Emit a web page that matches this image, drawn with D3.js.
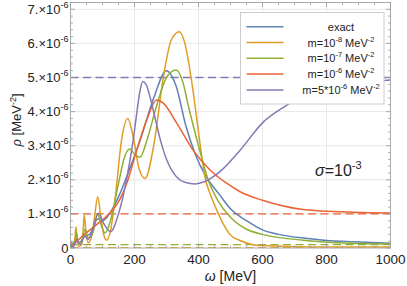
<!DOCTYPE html>
<html>
<head>
<meta charset="utf-8">
<script src="https://cdn.jsdelivr.net/npm/d3@7"></script>
<style>
  body { margin: 0; background: #fff; }
  text { font-family: "Liberation Sans", Arial, sans-serif; fill: #222; }
</style>
</head>
<body>
<div id="chart"></div>
<script>
// values in units of 1e-6 MeV^-2, omega in MeV
const exact = [[0,0.02],[15,0.2],[25,0.15],[45,0.35],[60,0.4],[85,0.85],[100,0.8],[125,1.05],[150,1.5],[180,2.2],[218,3.17],[260,4.4],[300,5.2],[330,4.75],[360,3.6],[390,2.75],[420,2.15],[467,1.55],[500,1.15],[550,0.8],[600,0.53],[650,0.4],[727,0.29],[800,0.22],[883,0.18],[1000,0.14]];
const m8 = [[0,0.02],[8,0.05],[14,0.3],[17,0.62],[20,0.3],[26,0.05],[35,0.1],[40,0.6],[43,0.97],[47,0.6],[55,0.15],[65,0.3],[75,0.9],[85,1.5],[95,0.9],[105,0.35],[113,0.23],[125,0.5],[140,1.5],[160,3.2],[179,3.8],[195,3.3],[215,2.3],[233,2.04],[260,3.0],[290,5.0],[315,6.1],[340,6.34],[360,5.9],[380,4.8],[400,3.4],[420,2.09],[440,1.5],[457,1.11],[475,0.75],[498,0.4],[530,0.22],[560,0.12],[600,0.07],[700,0.04],[800,0.03],[1000,0.03]];
const m7 = [[0,0.2],[8,0.1],[15,0.2],[19,0.45],[24,0.15],[35,0.2],[45,0.55],[55,0.3],[70,0.45],[85,1.0],[95,0.7],[108,0.44],[125,0.8],[150,1.9],[170,2.7],[186,2.9],[200,2.75],[217,2.66],[240,3.2],[270,4.2],[300,5.0],[330,5.22],[350,4.9],[370,4.1],[400,3.0],[430,2.0],[460,1.4],[500,0.9],[550,0.55],[600,0.4],[727,0.23],[850,0.15],[1000,0.12]];
const m6 = [[0,0.03],[20,0.2],[50,0.45],[90,0.75],[120,1.0],[150,1.35],[176,1.9],[207,2.87],[238,3.75],[269,4.34],[290,4.25],[332,3.66],[383,2.87],[436,2.29],[488,1.9],[530,1.65],[600,1.4],[727,1.13],[884,1.05],[1000,1.03]];
const m5x6 = [[0,0.02],[10,0.05],[19,0.25],[30,0.1],[45,0.35],[55,0.25],[70,0.55],[87,1.02],[105,0.7],[125,0.48],[150,1.0],[175,2.0],[196,3.17],[207,3.95],[217,4.6],[226,4.88],[236,4.8],[248,4.45],[262,3.9],[280,3.2],[300,2.6],[330,2.1],[360,1.92],[389,1.88],[420,1.95],[467,2.24],[530,2.87],[603,3.7],[676,4.19],[717,4.44],[800,4.7],[900,4.85],[1000,4.93]];
const asymptotes = [0, 0.01, 0.1, 1, 5];
const seriesNames = ["exact", "m=10", "m=10", "m=10", "m=5*10"];
const seriesExp = [null, "-8", "-7", "-6", "-6"];
const colors = ["#5e81b5", "#e19c24", "#8fb032", "#eb6235", "#8778b3"];
const xTicks = [0, 200, 400, 600, 800, 1000];
const yTicks = [0, 1, 2, 3, 4, 5, 6, 7];

const series = [exact, m8, m7, m6, m5x6];
const width = 407, height = 286;
const margin = {left: 70.5, right: 16.5, top: 2.5, bottom: 38};

const svg = d3.select("#chart").append("svg")
  .attr("width", width).attr("height", height);

const x = d3.scaleLinear().domain([0, 1000]).range([margin.left, width - margin.right]);
const y = d3.scaleLinear().domain([0, 7.2]).range([height - margin.bottom, margin.top]);

// grid
svg.append("g").selectAll("line").data(xTicks.slice(1, -1)).join("line")
  .attr("x1", d => x(d)).attr("x2", d => x(d))
  .attr("y1", y(0)).attr("y2", y(7.2))
  .attr("stroke", "#e8e8e8").attr("stroke-width", 1);
svg.append("g").selectAll("line").data(yTicks.slice(1)).join("line")
  .attr("x1", x(0)).attr("x2", x(1000))
  .attr("y1", d => y(d)).attr("y2", d => y(d))
  .attr("stroke", "#e8e8e8").attr("stroke-width", 1);

svg.append("clipPath").attr("id", "clip").append("rect")
  .attr("x", x(0)).attr("y", y(7.2)).attr("width", x(1000) - x(0)).attr("height", y(0) - y(7.2));

const plot = svg.append("g").attr("clip-path", "url(#clip)");
const line = d3.line().x(d => x(d[0])).y(d => y(d[1])).curve(d3.curveMonotoneX);

// dashed asymptotes
series.forEach((s, i) => {
  if (i === 0) return;
  plot.append("line")
    .attr("x1", x(0)).attr("x2", x(1000))
    .attr("y1", y(asymptotes[i])).attr("y2", y(asymptotes[i]))
    .attr("stroke", colors[i]).attr("stroke-width", 1.4)
    .attr("stroke-dasharray", "8,4.5");
});

series.forEach((s, i) => {
  plot.append("path").datum(s)
    .attr("d", line)
    .attr("fill", "none")
    .attr("stroke", colors[i])
    .attr("stroke-width", 1.5);
});

// frame
svg.append("rect")
  .attr("x", x(0)).attr("y", y(7.2)).attr("width", x(1000) - x(0)).attr("height", y(0) - y(7.2))
  .attr("fill", "none").attr("stroke", "#aaa").attr("stroke-width", 1);

// ticks
const tickG = svg.append("g").attr("stroke", "#999").attr("stroke-width", 0.8);
d3.range(0, 1001, 50).forEach(v => {
  const len = v % 200 === 0 ? 4.5 : 2.5;
  tickG.append("line").attr("x1", x(v)).attr("x2", x(v)).attr("y1", y(0)).attr("y2", y(0) - len);
  tickG.append("line").attr("x1", x(v)).attr("x2", x(v)).attr("y1", y(7.2)).attr("y2", y(7.2) + len);
});
d3.range(0, 7.21, 0.2).forEach(v => {
  const major = Math.abs(v - Math.round(v)) < 1e-6;
  const len = major ? 4.5 : 2.5;
  tickG.append("line").attr("y1", y(v)).attr("y2", y(v)).attr("x1", x(0)).attr("x2", x(0) + len);
  tickG.append("line").attr("y1", y(v)).attr("y2", y(v)).attr("x1", x(1000)).attr("x2", x(1000) - len);
});

// tick labels
svg.append("g").selectAll("text").data(xTicks).join("text")
  .attr("x", d => x(d)).attr("y", 264)
  .attr("text-anchor", "middle").attr("font-size", 13.5)
  .text(d => d);

const yl = svg.append("g").selectAll("text").data(yTicks).join("text")
  .attr("x", 68.5).attr("y", d => y(d) + 4.5)
  .attr("text-anchor", "end").attr("font-size", 13);
yl.each(function(d) {
  const t = d3.select(this);
  if (d === 0) { t.text("0"); return; }
  t.append("tspan").text(d + ".×10");
  t.append("tspan").attr("dy", -6).attr("font-size", 9).text("-6");
});

// axis titles
const xt = svg.append("text").attr("x", (x(0) + x(1000)) / 2).attr("y", 281)
  .attr("text-anchor", "middle").attr("font-size", 14);
xt.append("tspan").attr("font-style", "italic").text("ω");
xt.append("tspan").text(" [MeV]");

const ytl = svg.append("text").attr("transform", "translate(21,120) rotate(-90)")
  .attr("text-anchor", "middle").attr("font-size", 13);
ytl.append("tspan").attr("font-style", "italic").text("ρ");
ytl.append("tspan").text(" [MeV");
ytl.append("tspan").attr("dy", -5).attr("font-size", 9).text("-2");
ytl.append("tspan").attr("dy", 5).text("]");

// sigma annotation
const sg = svg.append("text").attr("x", 315).attr("y", 176).attr("font-size", 16);
sg.append("tspan").attr("font-style", "italic").text("σ");
sg.append("tspan").text("=10");
sg.append("tspan").attr("dy", -7).attr("font-size", 11).text("-3");

// legend
const lg = svg.append("g");
lg.append("rect").attr("x", 240.5).attr("y", 12.5).attr("width", 143.5).attr("height", 91.5)
  .attr("fill", "#fff").attr("stroke", "#ccc").attr("stroke-width", 1);
seriesNames.forEach((name, i) => {
  const ly = 26.7 + i * 15.8;
  lg.append("line").attr("x1", 246.5).attr("x2", 283.5).attr("y1", ly).attr("y2", ly)
    .attr("stroke", colors[i]).attr("stroke-width", 1.5);
  const t = lg.append("text").attr("x", 341).attr("y", ly + 4)
    .attr("text-anchor", "middle").attr("font-size", 11);
  t.append("tspan").text(name);
  if (seriesExp[i]) {
    t.append("tspan").attr("dy", -5).attr("font-size", 7.5).text(seriesExp[i]);
    t.append("tspan").attr("dy", 5).text(" MeV");
    t.append("tspan").attr("dy", -5).attr("font-size", 7.5).text("-2");
  }
});
</script>
</body>
</html>
